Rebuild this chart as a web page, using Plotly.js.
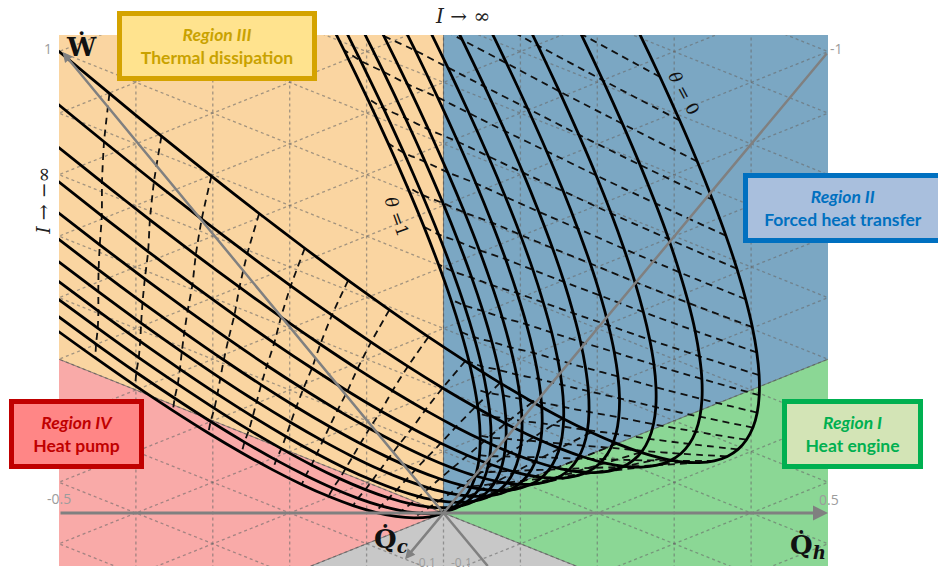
<!DOCTYPE html>
<html><head><meta charset="utf-8">
<script src="https://cdn.plot.ly/plotly-3.0.1.min.js"></script>
<style>html,body{margin:0;padding:0;background:#fff;overflow:hidden}#chart{width:938px;height:572px}</style>
</head><body><div id="chart"></div>
<script>
// theta values of the 11 solid curves (outermost theta=0 ... innermost theta=1)
const thetaValues = [0, 0.1, 0.2, 0.3, 0.4, 0.5, 0.6, 0.7, 0.8, 0.9, 1.0];
// current steps: index 0 of every curve array is step -14
const currentStepStart = -14;
// Q_h (horizontal) coordinate of each curve
const curveQh = [
[-0.505,-0.4344,-0.3668,-0.3018,-0.2397,-0.1804,-0.124,-0.0704,-0.0196,0.0283,0.0735,0.1158,0.1551,0.1918,0.2256,0.2566,0.2847,0.31,0.3325,0.3521,0.369,0.383,0.394,0.4024,0.4079,0.4106,0.4104,0.4074,0.4016,0.3929,0.3815,0.3672,0.3499,0.33,0.3072,0.2816,0.2531,0.2218],
[-0.5091,-0.4414,-0.3765,-0.3144,-0.2551,-0.1986,-0.1451,-0.0942,-0.0463,-0.0012,0.0412,0.0806,0.1172,0.151,0.182,0.2102,0.2354,0.258,0.2776,0.2944,0.3085,0.3196,0.3279,0.3334,0.3361,0.336,0.3329,0.3272,0.3185,0.307,0.2928,0.2756,0.2556,0.2328,0.2072,0.1788,0.1474],
[-0.5094,-0.4441,-0.3818,-0.3221,-0.2653,-0.2113,-0.1602,-0.1119,-0.0664,-0.0238,0.0161,0.0531,0.0871,0.1185,0.147,0.1727,0.1955,0.2155,0.2327,0.247,0.2586,0.2673,0.273,0.2761,0.2763,0.2737,0.2682,0.2599,0.2488,0.2348,0.2181,0.1985,0.1759,0.1507,0.1226,0.0917],
[-0.5075,-0.4443,-0.3841,-0.3265,-0.2719,-0.2201,-0.1711,-0.1249,-0.0815,-0.0411,-0.0034,0.0315,0.0634,0.0927,0.119,0.1425,0.1632,0.1811,0.1962,0.2083,0.2177,0.2243,0.2279,0.2289,0.2269,0.2221,0.2145,0.2041,0.1909,0.1747,0.1558,0.1341,0.1094,0.0821,0.0518,0.0187],
[-0.5084,-0.447,-0.3884,-0.3326,-0.2797,-0.2296,-0.1824,-0.1378,-0.0962,-0.0575,-0.0215,0.0116,0.0419,0.0694,0.094,0.1158,0.1347,0.151,0.1643,0.1747,0.1824,0.1872,0.1892,0.1884,0.1847,0.1782,0.1688,0.1568,0.1418,0.1239,0.1033,0.0798,0.0535,0.0244,-0.0076],
[-0.5084,-0.4485,-0.3914,-0.3371,-0.2857,-0.2371,-0.1914,-0.1483,-0.1082,-0.071,-0.0365,-0.0049,0.0239,0.0499,0.073,0.0933,0.1107,0.1255,0.1373,0.1462,0.1524,0.1557,0.1562,0.1539,0.1487,0.1407,0.1298,0.1163,0.0998,0.0804,0.0583,0.0333,0.0055,-0.0251,-0.0586],
[-0.5075,-0.4489,-0.3932,-0.3403,-0.2902,-0.2429,-0.1986,-0.1569,-0.1181,-0.0823,-0.0491,-0.0188,0.0086,0.0332,0.055,0.074,0.09,0.1034,0.1139,0.1215,0.1263,0.1283,0.1274,0.1237,0.1172,0.1079,0.0956,0.0807,0.0629,0.0422,0.0187,-0.0076,-0.0368,-0.0688,-0.1036],
[-0.506,-0.4488,-0.3944,-0.3428,-0.294,-0.2481,-0.205,-0.1647,-0.1272,-0.0927,-0.0608,-0.0319,-0.0058,0.0175,0.038,0.0557,0.0704,0.0825,0.0916,0.0979,0.1014,0.1021,0.0998,0.0949,0.087,0.0764,0.0628,0.0466,0.0274,0.0054,-0.0194,-0.047,-0.0776,-0.1108,-0.147],
[-0.5059,-0.4496,-0.3963,-0.3456,-0.2979,-0.253,-0.2109,-0.1716,-0.1351,-0.1016,-0.0708,-0.0428,-0.0178,0.0046,0.024,0.0406,0.0544,0.0654,0.0736,0.0788,0.0813,0.081,0.0777,0.0718,0.0629,0.0512,0.0367,0.0194,-0.0007,-0.0238,-0.0496,-0.0782,-0.1098,-0.144,-0.1812],
[-0.5071,-0.4518,-0.3994,-0.3496,-0.3028,-0.2588,-0.2176,-0.1792,-0.1437,-0.1111,-0.0811,-0.0541,-0.03,-0.0085,0.01,0.0257,0.0386,0.0487,0.0559,0.0603,0.0619,0.0606,0.0564,0.0496,0.0398,0.0272,0.0118,-0.0064,-0.0275,-0.0514,-0.0781,-0.1077,-0.1402,-0.1753,-0.2134],
[-0.5073,-0.4527,-0.401,-0.3519,-0.3058,-0.2625,-0.222,-0.1843,-0.1495,-0.1176,-0.0883,-0.062,-0.0386,-0.0178,0,0.015,0.0272,0.0366,0.0431,0.0468,0.0477,0.0457,0.0408,0.0333,0.0228,0.0095,-0.0066,-0.0255,-0.0473,-0.0719,-0.0993,-0.1296,-0.1628,-0.1986,-0.2374]
];
// vertical coordinate of each curve (same scale as Q_h)
const curveY = [
[0.6043,0.5456,0.4901,0.4382,0.3895,0.3443,0.3025,0.2641,0.229,0.1975,0.1692,0.1444,0.1229,0.1049,0.0902,0.0789,0.0711,0.0666,0.0656,0.0679,0.0736,0.0827,0.0953,0.1111,0.1305,0.1532,0.1793,0.2088,0.2417,0.278,0.3177,0.3607,0.4073,0.4571,0.5104,0.567,0.6271,0.6905],
[0.538,0.4828,0.4308,0.3823,0.3372,0.2954,0.2572,0.2222,0.1907,0.1626,0.1378,0.1165,0.0985,0.084,0.0728,0.065,0.0607,0.0597,0.0622,0.068,0.0771,0.0898,0.1058,0.1252,0.148,0.1743,0.2038,0.2368,0.2732,0.313,0.3562,0.4027,0.4527,0.5061,0.5628,0.623,0.6865],
[0.4826,0.4303,0.3813,0.3358,0.2936,0.2548,0.2195,0.1875,0.1589,0.1338,0.112,0.0936,0.0786,0.067,0.0588,0.054,0.0526,0.0546,0.06,0.0688,0.0809,0.0965,0.1155,0.1378,0.1636,0.1928,0.2253,0.2613,0.3006,0.3434,0.3895,0.439,0.492,0.5483,0.608,0.6711],
[0.4363,0.3865,0.34,0.297,0.2573,0.221,0.1882,0.1587,0.1326,0.1101,0.0908,0.0749,0.0624,0.0533,0.0476,0.0453,0.0464,0.0509,0.0588,0.0701,0.0848,0.1029,0.1244,0.1492,0.1775,0.2092,0.2442,0.2827,0.3245,0.3698,0.4185,0.4705,0.526,0.5848,0.647,0.7126],
[0.3964,0.3488,0.3044,0.2635,0.226,0.1918,0.1612,0.1338,0.1098,0.0894,0.0722,0.0585,0.0481,0.0412,0.0376,0.0374,0.0407,0.0473,0.0574,0.0708,0.0876,0.1078,0.1314,0.1584,0.1888,0.2227,0.2598,0.3004,0.3444,0.3918,0.4426,0.4967,0.5544,0.6153,0.6796],
[0.362,0.3162,0.2737,0.2347,0.199,0.1667,0.1379,0.1124,0.0903,0.0717,0.0564,0.0445,0.036,0.0309,0.0292,0.0309,0.036,0.0445,0.0564,0.0717,0.0903,0.1124,0.1379,0.1667,0.199,0.2347,0.2737,0.3162,0.362,0.4113,0.4639,0.5199,0.5794,0.6422,0.7084],
[0.332,0.2878,0.2469,0.2096,0.1755,0.1448,0.1177,0.0938,0.0733,0.0563,0.0427,0.0324,0.0255,0.0221,0.022,0.0253,0.0321,0.0422,0.0557,0.0727,0.0929,0.1166,0.1437,0.1742,0.2081,0.2454,0.2861,0.3302,0.3776,0.4286,0.4828,0.5404,0.6015,0.666,0.7338],
[0.3053,0.2626,0.2231,0.1872,0.1545,0.1253,0.0995,0.0771,0.058,0.0425,0.0302,0.0214,0.0159,0.0139,0.0152,0.0199,0.0281,0.0396,0.0546,0.0729,0.0946,0.1197,0.1483,0.1801,0.2155,0.2542,0.2963,0.3418,0.3907,0.443,0.4987,0.5577,0.6203,0.6861,0.7554],
[0.2818,0.2403,0.2021,0.1675,0.1361,0.1081,0.0837,0.0625,0.0447,0.0304,0.0195,0.0119,0.0077,0.007,0.0096,0.0156,0.0251,0.0379,0.0541,0.0738,0.0967,0.1231,0.1529,0.1861,0.2227,0.2627,0.3061,0.3529,0.403,0.4567,0.5136,0.5739,0.6377,0.7049,0.7754],
[0.2601,0.2197,0.1827,0.1492,0.119,0.0922,0.0688,0.0488,0.0322,0.0191,0.0093,0.0029,-0.0002,0.0002,0.004,0.0112,0.0218,0.0357,0.0531,0.0739,0.098,0.1256,0.1566,0.1908,0.2286,0.2698,0.3143,0.3623,0.4135,0.4683,0.5264,0.5879,0.6529,0.7212,0.7928],
[0.2408,0.2016,0.1656,0.1332,0.1041,0.0784,0.0561,0.0372,0.0217,0.0096,0.0009,-0.0044,-0.0063,-0.0049,0,0.0083,0.0199,0.035,0.0535,0.0754,0.1005,0.1292,0.1613,0.1966,0.2355,0.2778,0.3234,0.3724,0.4248,0.4807,0.5399,0.6024,0.6685,0.7379,0.8106]
];
// current steps drawn as dashed iso-current lines
const dashedCurrents = [-13,-12,-11,-10,-9,-8,-7,-6,-5,-4,-3,-2,-1,0,1,2,3,4,5,6,7,8,9,10,11,12,13,14,15,16,17,18,19,20,21];

// operating regions (polygons in the same coordinates)
const regionIIIx = [0,-0.52,-0.52,0], regionIIIy = [0,0.208,0.64,0.64];
const regionIIx = [0,0,0.52,0.52], regionIIy = [0,0.64,0.64,0.208];
const regionIVx = [0,-0.52,-0.52,-0.2], regionIVy = [0,0.208,-0.08,-0.08];
const regionIx = [0,0.52,0.52,0.2], regionIy = [0,0.208,-0.08,-0.08];
const forbiddenX = [0,-0.2,0.2], forbiddenY = [0,-0.08,-0.08];

// triangular dotted grid
const gridQh = [-0.4,-0.3,-0.2,-0.1,0,0.1,0.2,0.3,0.4];
const gridOffsets = [-0.24,-0.16,-0.08,0,0.08,0.16,0.24,0.32,0.4,0.48,0.56,0.64,0.72,0.8];
const gridSlope = 0.4;

const traces = [];
function fillTrace(xs, ys, color){
  return {x:xs, y:ys, mode:'lines', fill:'toself', fillcolor:color, line:{width:0, color:color}, hoverinfo:'skip', showlegend:false};
}
traces.push(fillTrace(regionIIIx, regionIIIy, '#FAD5A1'));
traces.push(fillTrace(regionIIx, regionIIy, '#7BA7C3'));
traces.push(fillTrace(regionIVx, regionIVy, '#F9AAA8'));
traces.push(fillTrace(regionIx, regionIy, '#8BD795'));
traces.push(fillTrace(forbiddenX, forbiddenY, '#C8C8C8'));

// grid
const gx = [], gy = [];
gridQh.forEach(v => { gx.push(v, v, null); gy.push(-0.08, 0.64, null); });
gridOffsets.forEach(o => {
  gx.push(-0.52, 0.52, null); gy.push(o - gridSlope*0.52, o + gridSlope*0.52, null);
  gx.push(-0.52, 0.52, null); gy.push(o + gridSlope*0.52, o - gridSlope*0.52, null);
});
traces.push({x:gx, y:gy, mode:'lines', line:{color:'rgba(105,105,105,0.6)', width:1.3, dash:'dot'}, hoverinfo:'skip', showlegend:false});

// region boundaries
traces.push({x:[-0.2,0.52,null,-0.52,0.2,null,0,0], y:[-0.08,0.208,null,0.208,-0.08,null,0,0.64],
  mode:'lines', line:{color:'rgba(70,70,70,0.6)', width:1}, hoverinfo:'skip', showlegend:false});

// dashed iso-current lines built from the curve tables
const dX = [], dY = [];
dashedCurrents.forEach(n => {
  const idx = n - currentStepStart;
  for (let i = 0; i < curveQh.length; i++) {
    if (idx < curveQh[i].length) { dX.push(curveQh[i][idx]); dY.push(curveY[i][idx]); }
  }
  dX.push(null); dY.push(null);
});
traces.push({x:dX, y:dY, mode:'lines', line:{color:'#111', width:1.8, dash:'7px,5px', shape:'spline', smoothing:0.6}, hoverinfo:'skip', showlegend:false});

// solid theta curves
curveQh.forEach((xs, i) => {
  traces.push({x:xs, y:curveY[i], mode:'lines', name:'θ='+thetaValues[i],
    line:{color:'#000', width:2.8, shape:'spline', smoothing:0.8}, hoverinfo:'skip', showlegend:false});
});

// gray axis line segment (W axis continuation below origin)
traces.push({x:[0,0.0575], y:[0,-0.0689], mode:'lines', line:{color:'#808080', width:2.5}, hoverinfo:'skip', showlegend:false});

const gray = '#808080';
const tickFont = {family:'Open Sans, Arial, sans-serif', size:14, color:'#9c9c9c'};
function txt(x, y, text, font, xa, ya, angle){
  const a = {xref:'paper', yref:'paper', x:x, y:y, text:text, showarrow:false, font:font,
    xanchor:xa || 'center', yanchor:ya || 'middle'};
  if (angle !== undefined) a.textangle = angle;
  return a;
}
function boxAnn(x, y, w, t, col, bg, border){
  return {xref:'paper', yref:'paper', x:x, y:y, xanchor:'center', yanchor:'middle', showarrow:false,
    text:t, align:'center', font:{family:'Lato, Open Sans, sans-serif', size:17.5, color:col},
    bgcolor:bg, bordercolor:border, borderwidth:5, borderpad:2, width:w, height:56};
}
const serifBig = {family:'DejaVu Serif, serif', size:26, color:'#111'};
const annotations = [
  // axes arrows
  {x:0.5, y:0, ax:-0.5, ay:0, xref:'x', yref:'y', axref:'x', ayref:'y', showarrow:true, arrowhead:2, arrowsize:1, arrowwidth:3, arrowcolor:gray, text:''},
  {x:-0.4954, y:0.5995, ax:0, ay:0, xref:'x', yref:'y', axref:'x', ayref:'y', showarrow:true, arrowhead:2, arrowsize:0.8, arrowwidth:2.5, arrowcolor:gray, text:''},
  {x:-0.05, y:-0.06, ax:0.5, ay:0.5995, xref:'x', yref:'y', axref:'x', ayref:'y', showarrow:true, arrowhead:2, arrowsize:0.8, arrowwidth:2.5, arrowcolor:gray, text:''},
  // tick labels
  txt(-0.0143, 0.9755, '1', tickFont),
  txt(1.0117, 0.9755, '-1', tickFont),
  txt(0.0, 0.128, '-0.5', tickFont),
  txt(1.0013, 0.126, '0.5', tickFont),
  txt(0.476, 0.006, '-0.1', {family:'Open Sans, Arial, sans-serif', size:12, color:'#9c9c9c'}),
  txt(0.5228, 0.006, '-0.1', {family:'Open Sans, Arial, sans-serif', size:12, color:'#9c9c9c'}),
  // symbols
  txt(0.006, 1.012, '<b>\u1E86</b>', serifBig, 'left', 'top'),
  txt(1.0, 0.002, '<b>Q\u0307<sub><i>h</i></sub></b>', serifBig, 'right', 'bottom'),
  txt(0.432, 0.013, '<b>Q\u0307<sub><i>c</i></sub></b>', serifBig, 'center', 'bottom'),
  txt(0.5245, 1.062, '<i>I</i> \u2192 \u221E', {family:'DejaVu Serif, serif', size:20, color:'#222'}, 'center', 'top'),
  txt(-0.038, 0.755, '<i>I</i> \u2192 \u2212\u221E', {family:'DejaVu Serif, serif', size:19, color:'#222'}, 'left', 'top', -90),
  txt(0.8127, 0.8908, '<i>\u03B8</i> = 0', {family:'DejaVu Serif, serif', size:17, color:'#111'}, 'center', 'middle', 62),
  txt(0.4395, 0.657, '<i>\u03B8</i> =1', {family:'DejaVu Serif, serif', size:17, color:'#111'}, 'center', 'middle', 70),
  // region boxes
  boxAnn(0.2055, 0.979, 186, '<b><i>Region III</i></b><br><b>Thermal dissipation</b>', '#C9A200', '#FFE38E', '#D4A300'),
  boxAnn(1.0195, 0.674, 186, '<b><i>Region II</i></b><br><b>Forced heat transfer</b>', '#0070C0', '#A9BFDD', '#0070C0'),
  boxAnn(0.0234, 0.2486, 121, '<b><i>Region IV</i></b><br><b>Heat pump</b>', '#C00000', '#FF8686', '#C00000'),
  boxAnn(1.0325, 0.2486, 127, '<b><i>Region I</i></b><br><b>Heat engine</b>', '#00B050', '#D3E4B6', '#00B050')
];

const layout = {
  width:938, height:572,
  margin:{l:59, r:110, t:35, b:6, pad:0},
  paper_bgcolor:'#ffffff', plot_bgcolor:'#ffffff',
  xaxis:{range:[-0.5,0.5], visible:false, fixedrange:true},
  yaxis:{range:[-0.0689,0.6216], visible:false, fixedrange:true},
  showlegend:false,
  annotations:annotations
};
Plotly.newPlot('chart', traces, layout, {staticPlot:true, displayModeBar:false});
</script>
</body></html>
